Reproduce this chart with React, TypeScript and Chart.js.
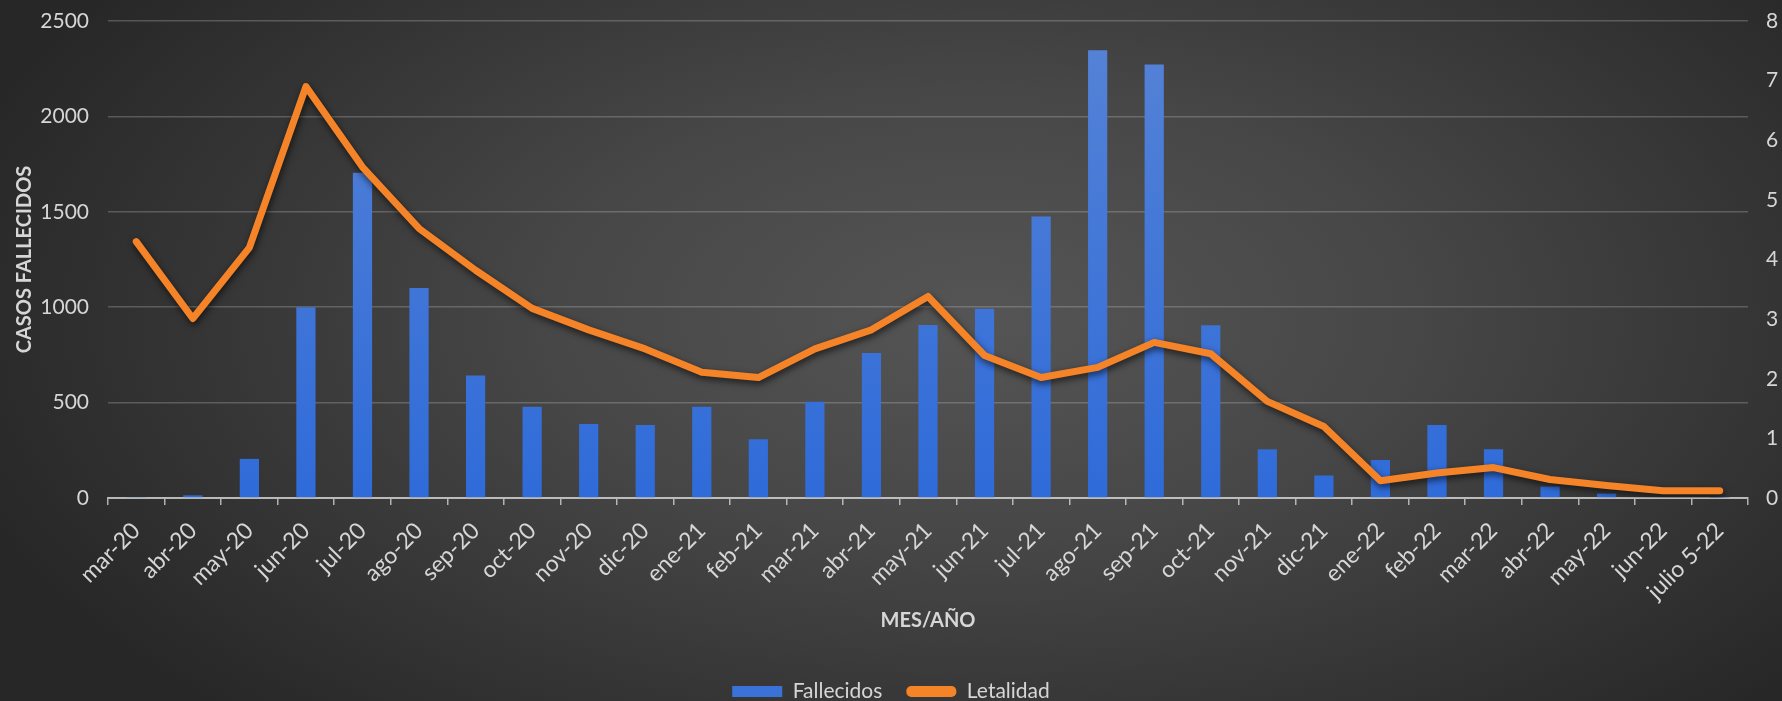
import React, { useEffect, useRef } from "react";
import { Chart, registerables } from "chart.js";

Chart.register(...registerables);

const categories = [
  "mar-20", "abr-20", "may-20", "jun-20", "jul-20", "ago-20", "sep-20", "oct-20", "nov-20", "dic-20",
  "ene-21", "feb-21", "mar-21", "abr-21", "may-21", "jun-21", "jul-21", "ago-21", "sep-21", "oct-21",
  "nov-21", "dic-21", "ene-22", "feb-22", "mar-22", "abr-22", "may-22", "jun-22", "julio 5-22",
];

const fallecidos = [
  3, 14, 205, 1000, 1705, 1100, 642, 478, 388, 383,
  478, 308, 505, 760, 907, 992, 1476, 2347, 2272, 905,
  255, 118, 199, 383, 255, 60, 23, 4, 2,
];

const letalidad = [
  4.3, 3.01, 4.2, 6.9, 5.55, 4.52, 3.82, 3.18, 2.82, 2.5,
  2.11, 2.02, 2.5, 2.82, 3.38, 2.39, 2.02, 2.19, 2.61, 2.42,
  1.62, 1.2, 0.29, 0.42, 0.51, 0.31, 0.21, 0.12, 0.12,
];

const leftTicks = [0, 500, 1000, 1500, 2000, 2500];
const rightTicks = [0, 1, 2, 3, 4, 5, 6, 7, 8];

const FONT = "Lato, 'Open Sans', sans-serif";
const TEXT = "#d6d6d6";

const shadowPlugin = {
  id: "lineShadow",
  beforeDatasetDraw(chart: any, args: any) {
    if (args.meta.type === "line") {
      const ctx = chart.ctx;
      ctx.save();
      ctx.shadowColor = "rgba(0,0,0,0.65)";
      ctx.shadowBlur = 7;
      ctx.shadowOffsetX = 1;
      ctx.shadowOffsetY = 3;
    }
  },
  afterDatasetDraw(chart: any, args: any) {
    if (args.meta.type === "line") chart.ctx.restore();
  },
};

export default function App() {
  const ref = useRef<HTMLCanvasElement | null>(null);

  useEffect(() => {
    if (!ref.current) return;
    const chart = new Chart(ref.current, {
      type: "bar",
      data: {
        labels: categories,
        datasets: [
          {
            type: "bar",
            label: "Fallecidos",
            data: fallecidos,
            yAxisID: "y",
            order: 1,
            backgroundColor: (c: any) => {
              const area = c.chart.chartArea;
              if (!area) return "#3a72d8";
              const g = c.chart.ctx.createLinearGradient(0, area.top, 0, area.bottom);
              g.addColorStop(0, "#5683d6");
              g.addColorStop(1, "#2f6bd9");
              return g;
            },
            barPercentage: 0.34,
            categoryPercentage: 1,
          } as any,
          {
            type: "line",
            label: "Letalidad",
            data: letalidad,
            yAxisID: "y1",
            order: 0,
            borderColor: "#f58327",
            backgroundColor: "#f58327",
            borderWidth: 7,
            pointRadius: 0,
            tension: 0,
            borderJoinStyle: "round",
            borderCapStyle: "round",
          } as any,
        ],
      },
      options: {
        animation: false,
        responsive: true,
        maintainAspectRatio: false,
        layout: { padding: { top: 21, left: 0, right: 0, bottom: -11 } },
        plugins: {
          tooltip: { enabled: false },
          legend: {
            position: "bottom",
            labels: {
              color: TEXT,
              font: { family: FONT, size: 21 },
              boxWidth: 50,
              boxHeight: 11,
              padding: 24,
              useBorderRadius: true,
              sort: (a: any, b: any) => a.datasetIndex - b.datasetIndex,
              generateLabels: (chart: any) => {
                const items = Chart.defaults.plugins.legend.labels.generateLabels(chart);
                return items.map((it: any) => {
                  const ds = chart.data.datasets[it.datasetIndex];
                  if (ds.type === "line") {
                    return { ...it, lineWidth: 0, fillStyle: "#f58327", borderRadius: 5 };
                  }
                  return { ...it, lineWidth: 0, fillStyle: "#3a72d8", borderRadius: 0 };
                });
              },
            },
          },
        },
        scales: {
          x: {
            offset: true,
            grid: {
              offset: true,
              drawOnChartArea: false,
              drawTicks: true,
              tickLength: 7,
              color: "rgba(220,220,220,0.75)",
              lineWidth: 1.5,
            },
            border: { display: true, color: "rgba(220,220,220,0.75)", width: 2 },
            ticks: {
              color: TEXT,
              font: { family: FONT, size: 23 },
              maxRotation: 45,
              minRotation: 45,
              autoSkip: false,
              padding: 12,
            },
            title: {
              display: true,
              text: "MES/AÑO",
              color: TEXT,
              font: { family: FONT, size: 20, weight: "bold" },
              padding: { top: 0, bottom: 24 },
            },
            afterFit: (s: any) => {
              s.height = 159;
            },
          },
          y: {
            position: "left",
            min: 0,
            max: 2500,
            afterBuildTicks: (s: any) => {
              s.ticks = leftTicks.map((v) => ({ value: v }));
            },
            grid: {
              color: "rgba(200,200,200,0.28)",
              lineWidth: 1.5,
              drawTicks: false,
            },
            border: { display: false },
            ticks: {
              color: TEXT,
              font: { family: FONT, size: 21 },
              padding: 19,
              callback: (v: any) => String(v),
            },
            title: {
              display: true,
              text: "CASOS FALLECIDOS",
              color: TEXT,
              font: { family: FONT, size: 20, weight: "bold" },
              padding: { top: 13, bottom: 0 },
            },
            afterFit: (s: any) => {
              s.width = 108;
              s.paddingTop = 0;
              s.paddingBottom = 0;
            },
          },
          y1: {
            position: "right",
            min: 0,
            max: 8,
            afterBuildTicks: (s: any) => {
              s.ticks = rightTicks.map((v) => ({ value: v }));
            },
            grid: { display: false, drawTicks: false },
            border: { display: false },
            ticks: {
              color: TEXT,
              font: { family: FONT, size: 21 },
              padding: 18,
              callback: (v: any) => String(v),
            },
            afterFit: (s: any) => {
              s.width = 34;
              s.paddingTop = 0;
              s.paddingBottom = 0;
            },
          },
        },
      },
      plugins: [shadowPlugin],
    } as any);
    return () => chart.destroy();
  }, []);

  return (
    <div
      style={{
        position: "fixed",
        left: 0,
        top: 0,
        width: 1782,
        height: 701,
        background:
          "radial-gradient(ellipse 60% 80% at 55% 45%, #555555 0%, #474747 40%, #343434 75%, #272727 100%)",
      }}
    >
      <canvas ref={ref} />
    </div>
  );
}
